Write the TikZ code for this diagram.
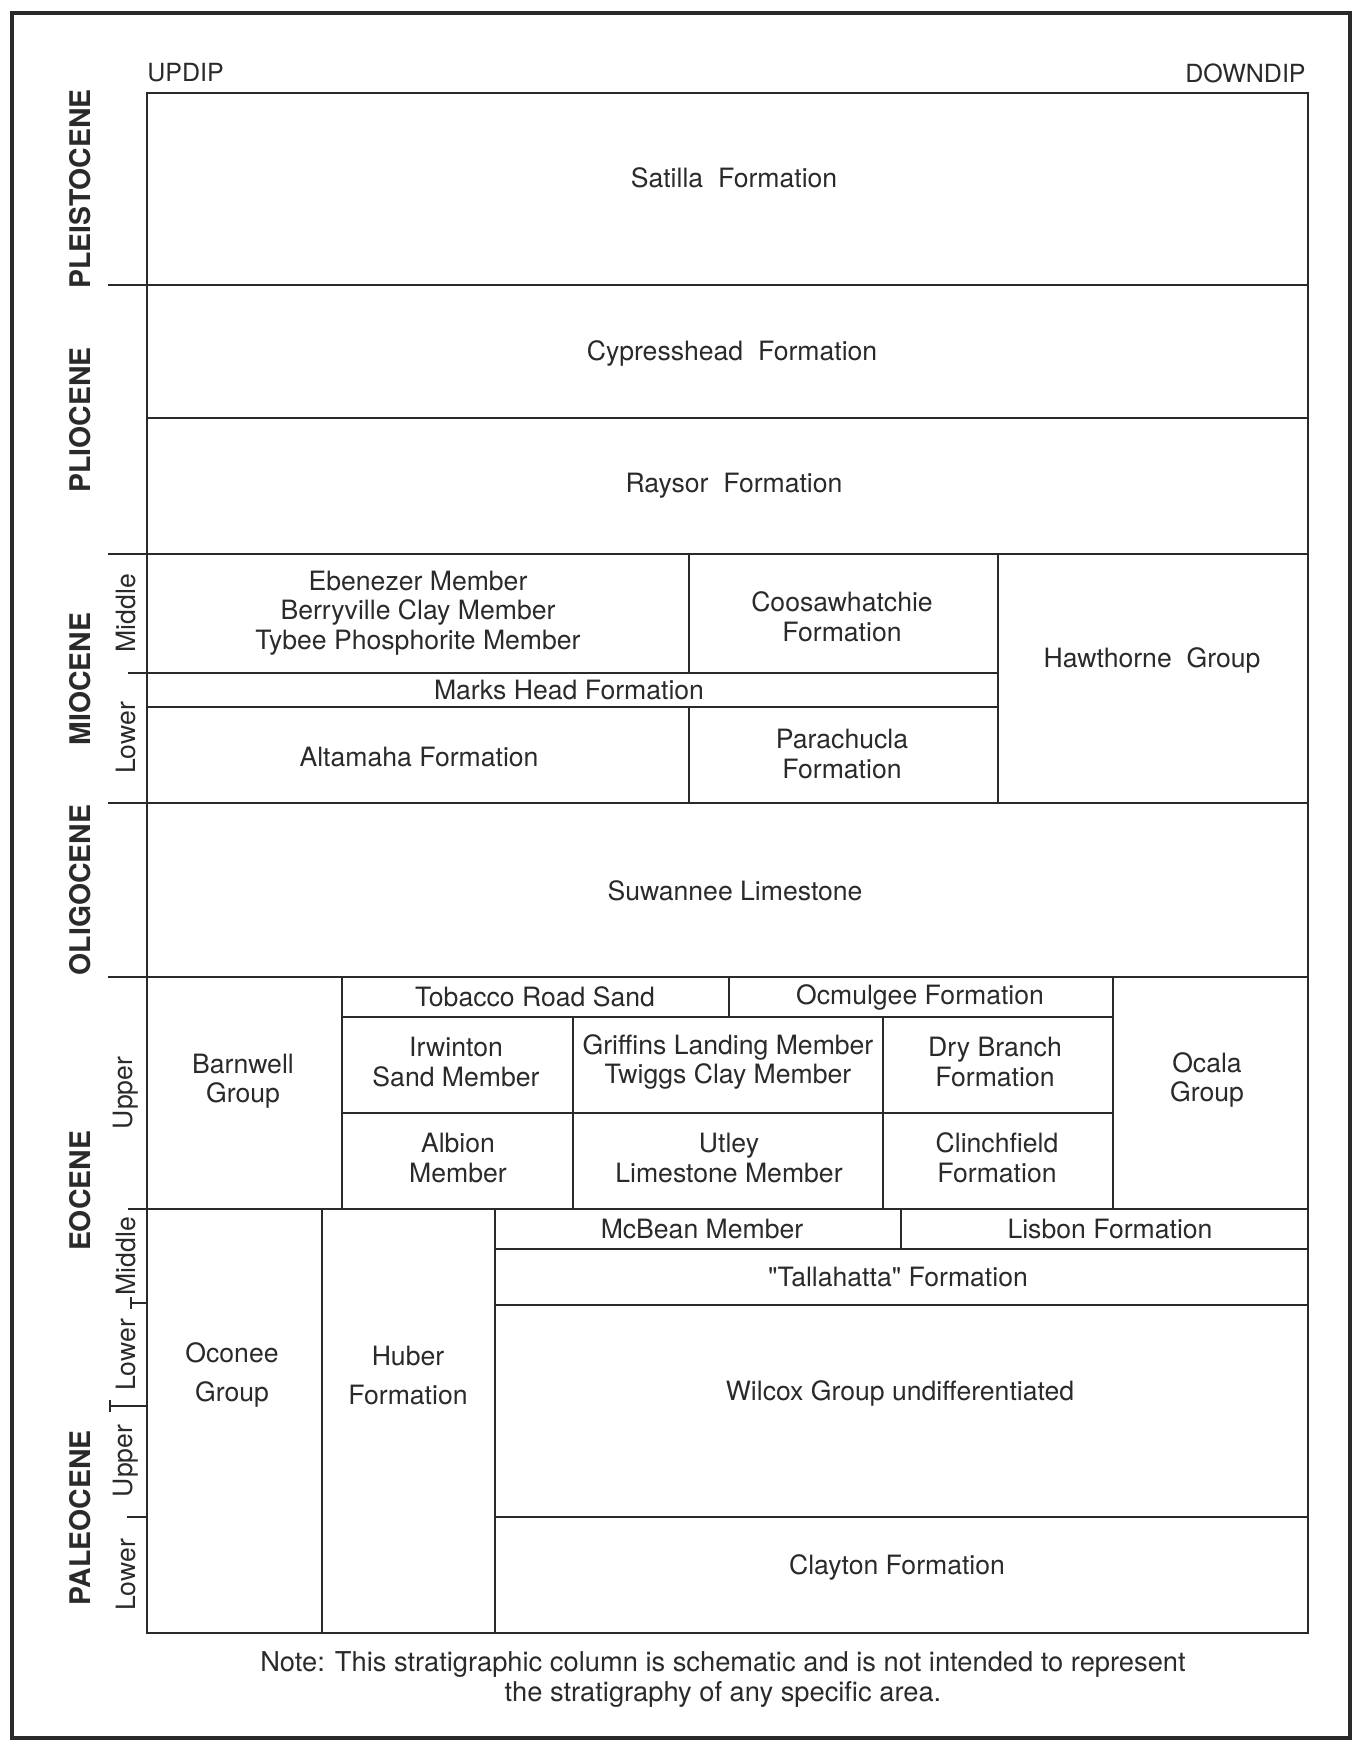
\documentclass[tikz,border=0pt]{standalone}
\usepackage{fontspec}
\setmainfont{TeX Gyre Heros}[Ligatures=TeXOff]
\usepackage{xcolor}
\definecolor{ink}{HTML}{2A2A2A}

\begin{document}
\begin{tikzpicture}[x=0.5pt, y=-0.5pt,
      every node/.style={font=\fontsize{13.3}{14.8}\selectfont, text=ink, align=center, inner sep=0pt},
      grid/.style={draw=ink, line width=1.45pt},
      epoch/.style={rotate=90, font=\fontsize{14.2}{16}\selectfont\bfseries},
      stage/.style={rotate=90},
      wide/.style={font=\fontsize{13.3}{19.5}\selectfont}
    ]
    \useasboundingbox (0,0) rectangle (1353,1744);
    \draw[draw=ink, line width=1.9pt] (12,13) rectangle (1350,1738);

    \draw[grid] (147,93) rectangle (1308,1633);
    \foreach \y in {285,418,554,803,977,1209}
      \draw[grid] (147,\y) -- (1308,\y);
    \foreach \y in {285,554,803,977}
      \draw[grid] (108,\y) -- (147,\y);
    \draw[grid] (110,1406) -- (147,1406);
    \draw[grid] (128,673) -- (147,673);
    \draw[grid] (128,1209) -- (147,1209);
    \draw[grid] (131,1303) -- (147,1303);
    \draw[grid] (127,1517) -- (147,1517);
    \draw[grid] (131,1297) -- (131,1309);
    \draw[grid] (110,1400) -- (110,1412);

    \draw[grid] (147,673) -- (998,673);
    \draw[grid] (147,707) -- (998,707);
    \draw[grid] (689,554) -- (689,673);
    \draw[grid] (689,707) -- (689,803);
    \draw[grid] (998,554) -- (998,803);

    \draw[grid] (342,977) -- (342,1209);
    \draw[grid] (1113,977) -- (1113,1209);
    \draw[grid] (729,977) -- (729,1017);
    \draw[grid] (342,1017) -- (1113,1017);
    \draw[grid] (342,1113) -- (1113,1113);
    \draw[grid] (573,1017) -- (573,1209);
    \draw[grid] (883,1017) -- (883,1209);

    \draw[grid] (322,1209) -- (322,1633);
    \draw[grid] (495,1209) -- (495,1633);
    \draw[grid] (901,1209) -- (901,1249);
    \draw[grid] (495,1249) -- (1308,1249);
    \draw[grid] (495,1305) -- (1308,1305);
    \draw[grid] (495,1517) -- (1308,1517);

    \node[anchor=west, font=\fontsize{12.5}{14}\selectfont] (updip) at (147,73) {UPDIP};
    \node[anchor=east, font=\fontsize{12.5}{14}\selectfont] (downdip) at (1306,73) {DOWNDIP};

    \node[epoch] (pleist) at (80,189) {PLEISTOCENE};
    \node[epoch] (plio) at (80,420) {PLIOCENE};
    \node[epoch] (mio) at (80,679) {MIOCENE};
    \node[epoch] (oligo) at (80,890) {OLIGOCENE};
    \node[epoch] (eo) at (80,1191) {EOCENE};
    \node[epoch] (paleo) at (80,1518) {PALEOCENE};

    \node[stage] (miomid) at (126,613) {Middle};
    \node[stage] (miolow) at (126,738) {Lower};
    \node[stage] (eoup) at (126,1093) {Upper};
    \node[stage] (eomid) at (126,1256) {Middle};
    \node[stage] (eolow) at (126,1355) {Lower};
    \node[stage] (paleoup) at (126,1461) {Upper};
    \node[stage] (paleolow) at (126,1575) {Lower};

    \node (satilla) at (734,178) {Satilla\ \ Formation};
    \node (cypress) at (732,353) {Cypresshead\ \ Formation};
    \node (raysor) at (734,486) {Raysor\ \ Formation};
    \node (ebenezer) at (418,613) {Ebenezer Member\\Berryville Clay Member\\Tybee Phosphorite Member};
    \node (coosaw) at (842,617) {Coosawhatchie\\Formation};
    \node (markshead) at (569,690) {Marks Head Formation};
    \node (hawthorne) at (1152,660) {Hawthorne\ \ Group};
    \node (altamaha) at (419,757) {Altamaha Formation};
    \node (parachucla) at (842,754) {Parachucla\\Formation};
    \node (suwannee) at (735,891) {Suwannee Limestone};
    \node (barnwell) at (243,1081) {Barnwell\\Group};
    \node (tobacco) at (535,997) {Tobacco Road Sand};
    \node (ocmulgee) at (920,997) {Ocmulgee Formation};
    \node (irwinton) at (456,1062) {Irwinton\\Sand Member};
    \node (griffins) at (728,1062) {Griffins Landing Member\\Twiggs Clay Member};
    \node (drybranch) at (995,1062) {Dry Branch\\Formation};
    \node (albion) at (458,1158) {Albion\\Member};
    \node (utley) at (729,1158) {Utley\\Limestone Member};
    \node (clinchfield) at (997,1158) {Clinchfield\\Formation};
    \node (ocala) at (1207,1080) {Ocala\\Group};
    \node[wide] (oconee) at (232,1375) {Oconee\\Group};
    \node[wide] (huber) at (408,1375) {Huber\\Formation};
    \node (mcbean) at (702,1229) {McBean Member};
    \node (lisbon) at (1110,1229) {Lisbon Formation};
    \node (tallahatta) at (898,1277) {"Tallahatta" Formation};
    \node (wilcox) at (900,1393) {Wilcox Group undifferentiated};
    \node (clayton) at (897,1567) {Clayton Formation};
    \node[font=\fontsize{13.65}{15}\selectfont] (note) at (723,1680) {Note: This stratigraphic column is schematic and is not intended to represent\\the stratigraphy of any specific area.};
\end{tikzpicture}
\end{document}
